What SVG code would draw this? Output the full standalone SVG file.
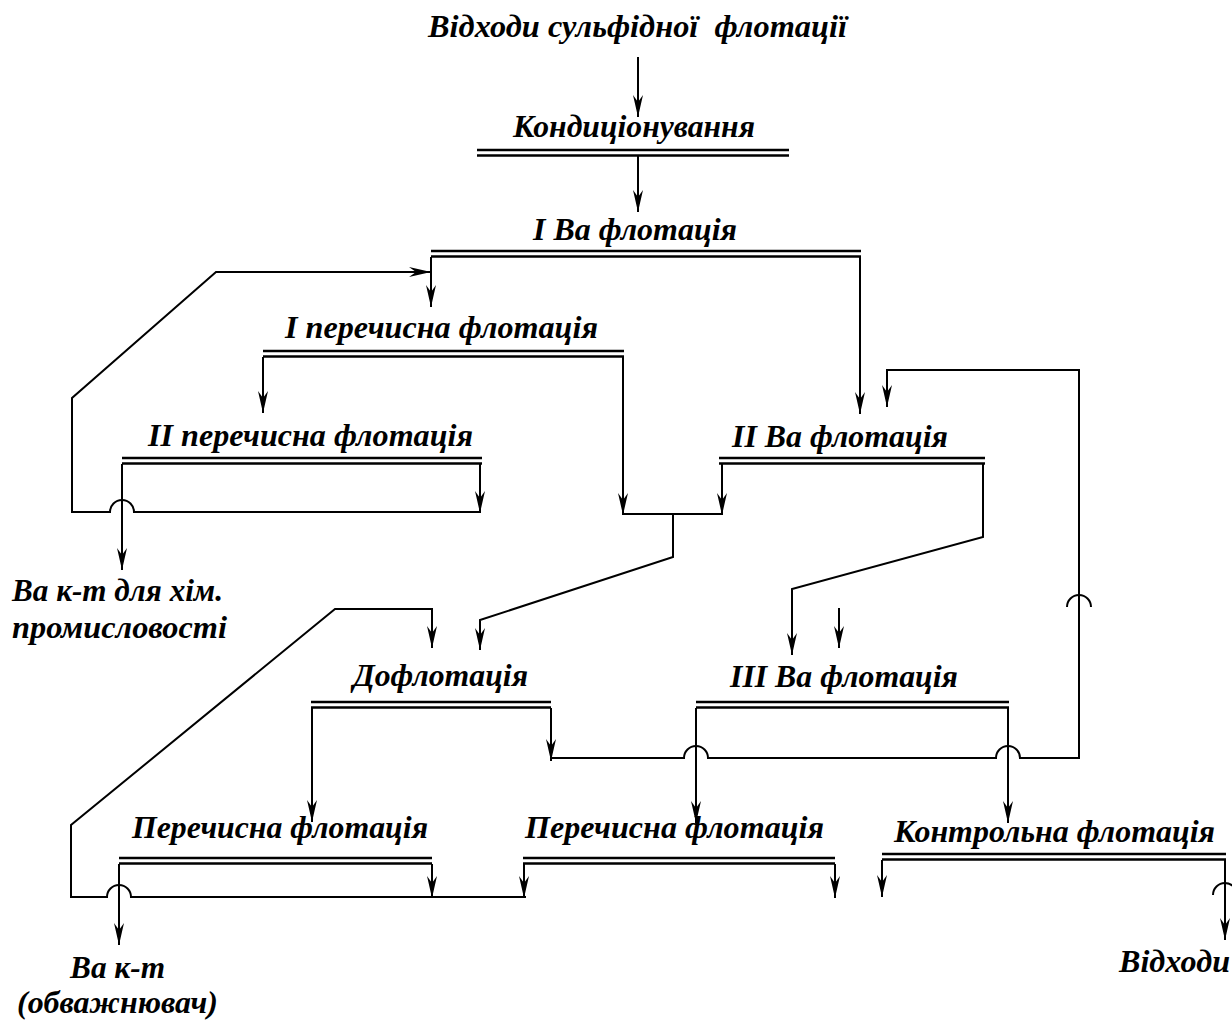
<svg xmlns="http://www.w3.org/2000/svg" width="1232" height="1023" viewBox="0 0 1232 1023">
<style>
text{font-family:"Liberation Serif","Times New Roman",serif;font-weight:bold;font-style:italic;font-size:31px;fill:#000}
.dl{stroke:#000;stroke-width:2.5;fill:none}
.c{stroke:#000;stroke-width:2;fill:none}
.a{marker-end:url(#ah)}
</style>
<defs>
<marker id="ah" markerUnits="userSpaceOnUse" viewBox="0 0 22 10" refX="22" refY="5" markerWidth="22" markerHeight="10" orient="auto">
<path d="M0,0 L22,5 L0,10 L7,5 Z" fill="#000"/>
</marker>
</defs>
<rect width="1232" height="1023" fill="#fff"/>

<g id="n-source"><text x="428" y="37" textLength="419" lengthAdjust="spacingAndGlyphs" xml:space="preserve">Відходи сульфідної  флотації</text></g>
<g id="n-cond"><text x="513" y="137" textLength="242" lengthAdjust="spacingAndGlyphs">Кондиціонування</text><path class="dl" d="M477,150H789M477,155.5H789"/></g>
<g id="n-ba1"><text x="533" y="240" textLength="204" lengthAdjust="spacingAndGlyphs">I Ва флотація</text><path class="dl" d="M431,251H861M431,256.5H861"/></g>
<g id="n-per1"><text x="285" y="338" textLength="313" lengthAdjust="spacingAndGlyphs">I перечисна флотація</text><path class="dl" d="M263,351H624M263,356.5H624"/></g>
<g id="n-per2"><text x="148" y="446" textLength="325" lengthAdjust="spacingAndGlyphs">II перечисна флотація</text><path class="dl" d="M122,458H482M122,463.5H482"/></g>
<g id="n-ba2"><text x="732" y="447" textLength="216" lengthAdjust="spacingAndGlyphs">II Ва флотація</text><path class="dl" d="M719,458H985M719,463.5H985"/></g>
<g id="n-chem"><text x="12" y="601" textLength="211" lengthAdjust="spacingAndGlyphs">Ва к-т для хім.</text><text x="12" y="638" textLength="215" lengthAdjust="spacingAndGlyphs">промисловості</text></g>
<g id="n-dofl"><text x="353" y="686" textLength="175" lengthAdjust="spacingAndGlyphs">Дофлотація</text><path class="dl" d="M311,702H551M311,707.5H551"/></g>
<g id="n-ba3"><text x="730" y="687" textLength="228" lengthAdjust="spacingAndGlyphs">III Ва флотація</text><path class="dl" d="M696,702H1009M696,707.5H1009"/></g>
<g id="n-perL"><text x="132" y="838" textLength="296" lengthAdjust="spacingAndGlyphs">Перечисна флотація</text><path class="dl" d="M119,858H432M119,863.5H432"/></g>
<g id="n-perM"><text x="525" y="838" textLength="299" lengthAdjust="spacingAndGlyphs">Перечисна флотація</text><path class="dl" d="M523,858H835M523,863.5H835"/></g>
<g id="n-ctrl"><text x="894" y="842" textLength="321" lengthAdjust="spacingAndGlyphs">Контрольна флотація</text><path class="dl" d="M882,854H1226M882,859.5H1226"/></g>
<g id="n-conc"><text x="70" y="978" textLength="95" lengthAdjust="spacingAndGlyphs">Ва к-т</text><text x="17" y="1013" textLength="201" lengthAdjust="spacingAndGlyphs">(обважнювач)</text></g>
<g id="n-tail"><text x="1119" y="972" textLength="111" lengthAdjust="spacingAndGlyphs">Відходи</text></g>

<g id="connectors">
<path class="c a" d="M638,57V117"/>
<path class="c a" d="M638,156V212"/>
<path class="c a" d="M431,257V307"/>
<path class="c a" d="M860,257V414"/>
<path class="c a" d="M480,464V513"/>
<path class="c a" d="M480,512H134A12,12 0 0 0 110,512H72V398L216,272H431"/>
<path class="c a" d="M122,464V570"/>
<path class="c a" d="M263,357V413"/>
<path class="c a" d="M623,357V515"/>
<path class="c" d="M623,514H722"/>
<path class="c a" d="M722,464V515"/>
<path class="c a" d="M673,514V557L480,620V650"/>
<path class="c a" d="M983,464V537L792,589V655"/>
<path class="c a" d="M839,608V648"/>
<path class="c a" d="M551,708V761"/>
<path class="c a" d="M551,758H684A12,12 0 0 1 708,758H996A12,12 0 0 1 1020,758H1079V370H887V407"/>
<path class="c" d="M1067,607A12,12 0 0 1 1091,607"/>
<path class="c a" d="M312,708V822"/>
<path class="c a" d="M696,708V823"/>
<path class="c a" d="M1008,708V823"/>
<path class="c a" d="M432,864V898"/>
<path class="c a" d="M524,864V898"/>
<path class="c a" d="M526,897H131A12,12 0 0 0 107,897H71V825L335,609H432V648"/>
<path class="c a" d="M119,864V945"/>
<path class="c a" d="M835,864V898"/>
<path class="c a" d="M882,860V897"/>
<path class="c a" d="M1225,860V940"/>
<path class="c" d="M1213,895A12,12 0 0 1 1237,895"/>
</g>
</svg>
